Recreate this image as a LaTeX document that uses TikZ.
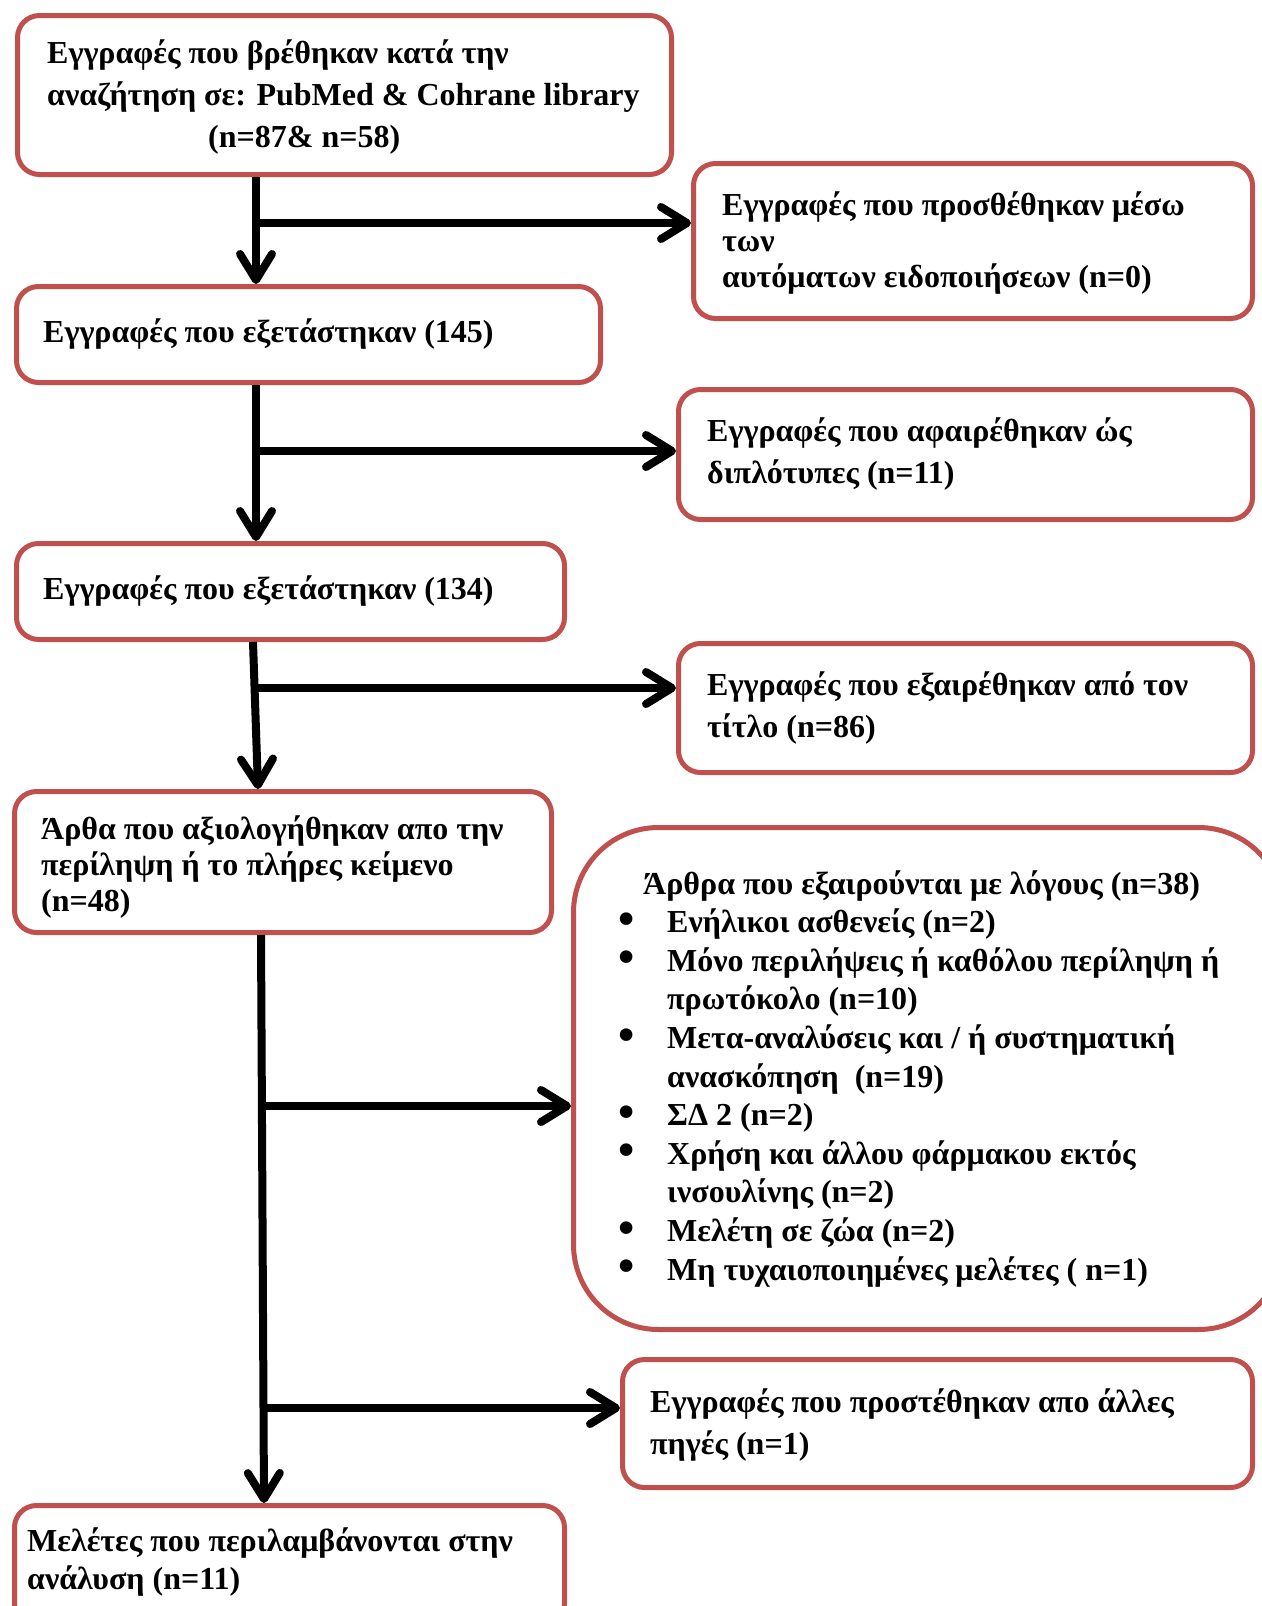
\documentclass[tikz,border=0pt]{standalone}
\usepackage{fontspec}
\setmainfont{Liberation Serif}
\usetikzlibrary{arrows.meta}
\definecolor{bord}{HTML}{C0504D}
\newcommand{\bigbul}{\makebox[41pt][l]{\hspace*{-8pt}\smash{\raisebox{-0.12ex}{\scalebox{1.45}{\textbullet}}}}}
\begin{document}
\begin{tikzpicture}[x=1pt,y=-1pt,
  box/.style={draw=bord, line width=5pt, rounded corners=22pt, anchor=north west, inner sep=0pt},
  txt/.style={anchor=west, align=left, inner sep=0pt, font=\bfseries\fontsize{32}{#1}\selectfont},
  txt/.default=42,
  conn/.style={line width=8pt, -{Straight Barb[length=26pt,width=32pt,line cap=round,line join=round]}}]
\useasboundingbox[fill=white] (0,0) rectangle (1261,1606);

% boxes
\node[box, minimum width=654pt, minimum height=159pt] (b1) at (15,13) {};
\node[box, minimum width=559pt, minimum height=155pt] (b2) at (691,161) {};
\node[box, minimum width=584pt, minimum height=96pt] (b3) at (14,284) {};
\node[box, minimum width=574pt, minimum height=130pt] (b4) at (676,387) {};
\node[box, minimum width=548pt, minimum height=96pt] (b5) at (14,541) {};
\node[box, minimum width=574pt, minimum height=129pt] (b6) at (676,641) {};
\node[box, minimum width=537pt, minimum height=141pt] (b7) at (12,789) {};
\node[box, rounded corners=85pt, minimum width=710pt, minimum height=502pt] (b8) at (571,825) {};
\node[box, minimum width=630pt, minimum height=128pt] (b9) at (620,1357) {};
\node[box, minimum width=550pt, minimum height=120pt] (b10) at (12,1503) {};

% texts
\node[txt=42] (t1) at ([xshift=32pt,yshift=-2pt]b1.west)
  {Εγγραφές που βρέθηκαν κατά την\\ αναζήτηση σε: PubMed \& Cohrane library\\ \hspace*{161pt}(n=87\& n=58)};
\node[txt=36] (t2) at ([xshift=31pt,yshift=-2pt]b2.west)
  {Εγγραφές που προσθέθηκαν μέσω\\ των\\ αυτόματων ειδοποιήσεων (n=0)};
\node[txt] (t3) at ([xshift=29pt]b3.west) {Εγγραφές που εξετάστηκαν (145)};
\node[txt=42] (t4) at ([xshift=31pt]b4.west) {Εγγραφές που αφαιρέθηκαν ώς\\ διπλότυπες (n=11)};
\node[txt] (t5) at ([xshift=29pt]b5.west) {Εγγραφές που εξετάστηκαν (134)};
\node[txt=42] (t6) at ([xshift=31pt]b6.west) {Εγγραφές που εξαιρέθηκαν από τον\\ τίτλο (n=86)};
\node[txt=36] (t7) at ([xshift=29pt,yshift=-5pt]b7.west)
  {Άρθα που αξιολογήθηκαν απο την\\ περίληψη ή το πλήρες κείμενο\\ (n=48)};
\node[txt=38.6] (t8) at ([xshift=55pt]b8.west)
  {\hspace*{17pt}Άρθρα που εξαιρούνται με λόγους (n=38)\\
   \bigbul Ενήλικοι ασθενείς (n=2)\\
   \bigbul Μόνο περιλήψεις ή καθόλου περίληψη ή\\
   \hspace*{41pt}πρωτόκολο (n=10)\\
   \bigbul Μετα-αναλύσεις και / ή συστηματική\\
   \hspace*{41pt}ανασκόπηση\ \ (n=19)\\
   \bigbul ΣΔ 2 (n=2)\\
   \bigbul Χρήση και άλλου φάρμακου εκτός\\
   \hspace*{41pt}ινσουλίνης (n=2)\\
   \bigbul Μελέτη σε ζώα (n=2)\\
   \bigbul Μη τυχαιοποιημένες μελέτες ( n=1)};
\node[txt=42] (t9) at ([xshift=30pt,yshift=-1pt]b9.west) {Εγγραφές που προστέθηκαν απο άλλες\\ πηγές (n=1)};
\node[txt=38] (t10) at ([xshift=15pt,yshift=4pt]b10.west) {Μελέτες που περιλαμβάνονται στην\\ ανάλυση (n=11)};

% connectors
\coordinate (j1) at (256,223);
\draw[conn] (b1.south -| j1) -- (b3.north -| j1);
\draw[conn] (j1) -- (j1 -| b2.west);

\coordinate (j2) at (256,451);
\draw[conn] (b3.south -| j2) -- (b5.north -| j2);
\draw[conn] (j2) -- (j2 -| b4.west);

\coordinate (s3) at (253,637);
\coordinate (e3) at (258,789);
\coordinate (j3) at (255,688);
\draw[conn] (b5.south -| s3) -- (b7.north -| e3);
\draw[conn] (j3) -- (j3 -| b6.west);

\coordinate (s4) at (261,930);
\coordinate (e4) at (264,1503);
\coordinate (j4) at (263,1106);
\coordinate (j5) at (263,1408);
\draw[conn] (b7.south -| s4) -- (b10.north -| e4);
\draw[conn] (j4) -- (j4 -| b8.west);
\draw[conn] (j5) -- (j5 -| b9.west);
\end{tikzpicture}
\end{document}
